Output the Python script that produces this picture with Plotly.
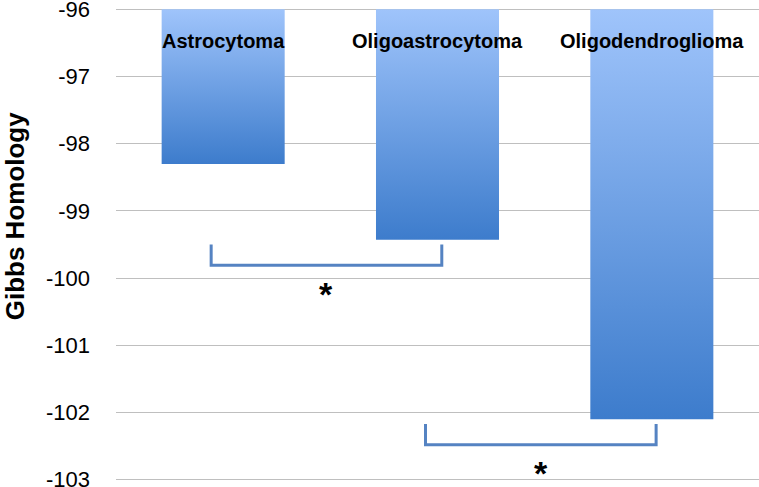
import plotly.graph_objects as go

categories = ["Astrocytoma", "Oligoastrocytoma", "Oligodendroglioma"]
values = [-98.3, -99.43, -102.1]
baseline = -96
y_ticks = [-96, -97, -98, -99, -100, -101, -102, -103]

# significance brackets between category pairs
sig_pairs = [(0, 1), (1, 2)]

BAR_HALF = 0.287
LIGHT = "#9fc4fb"
DARK = "#3d7ccc"
BRACKET = "#5583c2"

traces = []
for idx, val in enumerate(values):
    x0, x1 = idx - BAR_HALF, idx + BAR_HALF
    traces.append(
        go.Scatter(
            x=[x0, x1, x1, x0, x0],
            y=[baseline, baseline, val, val, baseline],
            mode="lines",
            fill="toself",
            fillgradient={
                "type": "vertical",
                "colorscale": [[0, DARK], [1, LIGHT]],
            },
            line={"width": 0},
            showlegend=False,
            hoverinfo="skip",
        )
    )

annotations = []
for idx, name in enumerate(categories):
    annotations.append(
        dict(
            x=idx, y=-96.47, xref="x", yref="y", text=f"<b>{name}</b>",
            showarrow=False,
            font={"family": "Liberation Sans Narrow, Arial Narrow, Liberation Sans, Arial, sans-serif",
                  "size": 20, "color": "black"},
        )
    )

# bracket sits just under the right-hand bar of each pair
for a, b in sig_pairs:
    top = values[b] - 0.07
    bottom = top - 0.31
    xl, xr = a - 0.056, b + 0.02
    traces.append(
        go.Scatter(
            x=[xl, xl, xr, xr],
            y=[top, bottom, bottom, top],
            mode="lines",
            line={"color": BRACKET, "width": 3},
            showlegend=False,
            hoverinfo="skip",
        )
    )
    annotations.append(
        dict(
            x=(xl + xr) / 2, y=bottom - 0.42, xref="x", yref="y", text="<b>*</b>",
            showarrow=False,
            font={"family": "Liberation Sans, Arial, sans-serif",
                  "size": 34, "color": "black"},
        )
    )

annotations.append(
    dict(
        x=-0.158, y=0.56, xref="paper", yref="paper", text="<b>Gibbs Homology</b>",
        textangle=-90, showarrow=False, xanchor="center", yanchor="middle",
        font={"family": "Liberation Sans, Arial, sans-serif", "size": 26,
              "color": "black"},
    )
)

fig = go.Figure(data=traces)
fig.update_layout(
    width=759,
    height=487,
    margin={"l": 116, "r": 0, "t": 6, "b": 4},
    paper_bgcolor="white",
    plot_bgcolor="white",
    annotations=annotations,
    xaxis={
        "range": [-0.5, 2.5],
        "showticklabels": False,
        "showgrid": False,
        "zeroline": False,
        "fixedrange": True,
        "automargin": False,
    },
    yaxis={
        "range": [-103.05, -95.95],
        "tickvals": y_ticks,
        "ticktext": [str(t) for t in y_ticks],
        "showgrid": True,
        "gridcolor": "#bfbfbf",
        "gridwidth": 1,
        "zeroline": False,
        "automargin": False,
        "ticklabelstandoff": 25,
        "ticklabeloverflow": "allow",
        "tickfont": {"family": "Liberation Sans, Arial, sans-serif",
                     "size": 22, "color": "black"},
    },
)
fig.write_html(
    "out.html",
    config={"displayModeBar": False},
    post_script="document.body.style.margin='0';",
)
